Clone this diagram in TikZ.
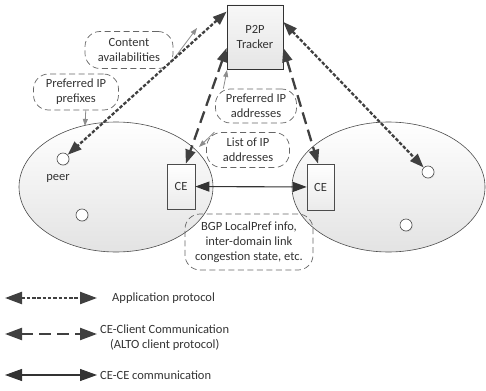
\documentclass[tikz,border=0pt]{standalone}
\usepackage{fontspec}
\setmainfont{Carlito}
\usetikzlibrary{arrows.meta,shapes.geometric,shadows}
\begin{document}
\begin{tikzpicture}[x=1pt,y=-1pt,
  font=\fontsize{12.5}{14.8}\selectfont,
  every node/.style={text=black!80},
  asregion/.style={ellipse, draw=black!70, line width=0.6pt, top color=white, bottom color=black!11, minimum height=130pt},
  peernode/.style={circle, draw=black!70, line width=0.6pt, fill=white, minimum size=12pt, inner sep=0pt, drop shadow={opacity=0.2,shadow xshift=0.8pt,shadow yshift=-0.8pt}},
  cebox/.style={draw=black!70, line width=0.6pt, top color=white, bottom color=black!8, drop shadow={opacity=0.25,shadow xshift=1.2pt,shadow yshift=-1.2pt}, inner sep=0pt},
  lbl/.style={draw=black!60, line width=0.7pt, dash pattern=on 6pt off 3.5pt, rounded corners=15pt, align=center, inner sep=1pt},
  app/.style={draw=black!75, line width=2.3pt, dash pattern=on 3.5pt off 1.8pt, {Triangle[length=14pt,width=10pt]}-{Triangle[length=14pt,width=10pt]}},
  alto/.style={draw=black!75, line width=2.3pt, dash pattern=on 12pt off 6pt, {Triangle[length=14pt,width=10pt]}-{Triangle[length=14pt,width=10pt]}},
  cece/.style={draw=black!80, line width=1.1pt, {Triangle[length=14pt,width=10pt]}-{Triangle[length=14pt,width=10pt]}},
  bigtips/.style={{Triangle[length=17pt,width=12pt]}-{Triangle[length=17pt,width=12pt]}},
  ptr/.style={draw=black!45, line width=0.8pt, -{Triangle[length=7pt,width=5pt]}}
]
\useasboundingbox (0,0) rectangle (486,390);
% domains
\node[asregion, minimum width=194pt] (domL) at (116,187) {};
\node[asregion, minimum width=193pt] (domR) at (388.5,187) {};
% peers
\node[peernode] (p1) at (63,159) {};
\node[inner sep=0pt] (peerlbl) at (58,178) {peer};
\node[peernode] (p2) at (82,215) {};
\node[peernode] (p3) at (428,172) {};
\node[peernode] (p4) at (406,225) {};
% CE boxes
\node[cebox, minimum width=28pt, minimum height=45pt] (ceL) at (181,186.5) {CE};
\node[cebox, minimum width=27pt, minimum height=46pt] (ceR) at (320.5,187) {CE};
% tracker
\node[cebox, draw=black!80, minimum width=56pt, minimum height=64pt, align=center, top color=black!3, bottom color=black!10] (tracker) at (255,37) {P2P\\Tracker};
% labels
\node[lbl, minimum width=88pt, minimum height=37pt] (cont) at (129,50) {Content\\availabilities};
\node[lbl, minimum width=85pt, minimum height=36pt] (pref) at (76,92) {Preferred IP\\prefixes};
\node[lbl, minimum width=81pt, minimum height=34pt] (paddr) at (256,106) {Preferred IP\\addresses};
\node[lbl, minimum width=83pt, minimum height=35pt] (list) at (248,150) {List of IP\\addresses};
\node[lbl, minimum width=128pt, minimum height=56pt] (bgp) at (249,242) {BGP LocalPref info,\\inter-domain link\\congestion state, etc.};
% pointer ends
\coordinate (c1) at (197,28);
\coordinate (c2) at (85,126);
\coordinate (c3) at (227,70);
\coordinate (c4) at (199,147);
\draw[ptr] (cont.-12) -- (c1);
\draw[ptr] (pref.-62) -- (c2);
\draw[ptr] (paddr.152) -- (c3);
\draw[ptr] (list.152) -- (c4);
% protocol arrows
\draw[app] (tracker.138) -- (p1);
\draw[app] (tracker.28) -- (p3);
\draw[alto] (tracker.201) -- (ceL.78);
\draw[alto] (tracker.339) -- (ceR.96);
\draw[cece] (ceL) -- (ceR);
% legend
\coordinate (l1a) at (5,298); \coordinate (l1b) at (97,298);
\coordinate (l2a) at (5,334); \coordinate (l2b) at (97,334);
\coordinate (l3a) at (5,375); \coordinate (l3b) at (97,375);
\draw[app, bigtips] (l1a) -- (l1b);
\draw[alto, bigtips] (l2a) -- (l2b);
\draw[cece, bigtips] (l3a) -- (l3b);
\node[anchor=west, inner sep=0pt] (t1) at (112,298) {Application protocol};
\node[anchor=west, inner sep=0pt, align=center] (t2) at (100,338) {CE-Client Communication\\(ALTO client protocol)};
\node[anchor=west, inner sep=0pt] (t3) at (100,375) {CE-CE communication};
\end{tikzpicture}
\end{document}
